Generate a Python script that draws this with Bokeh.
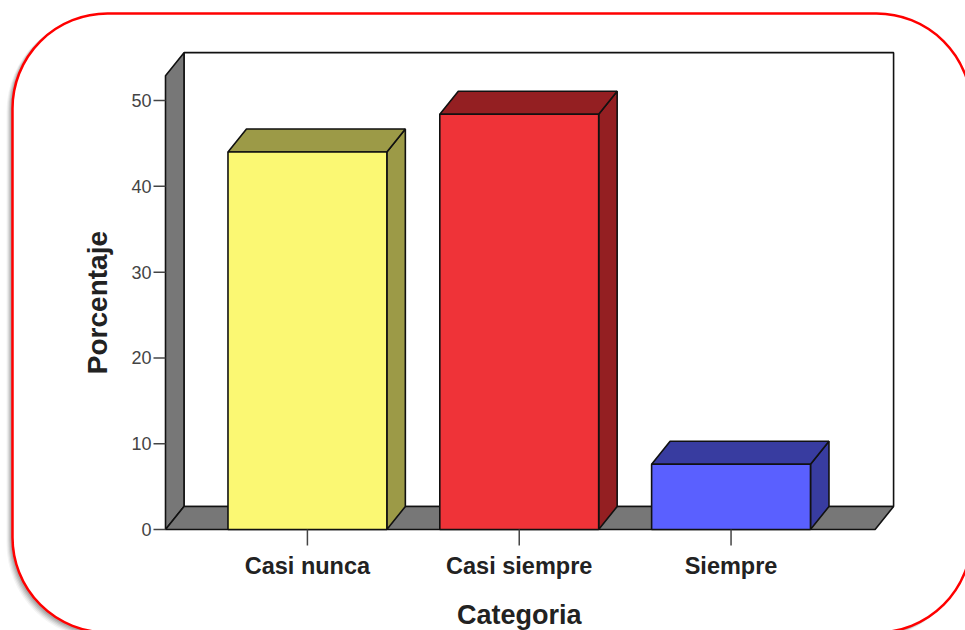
import math

from bokeh.plotting import figure
from bokeh.models import BoxAnnotation, Range1d
from bokeh.core.properties import value
from bokeh.embed import file_html
from bokeh.resources import INLINE

# ---- data -------------------------------------------------------------
categories = ["Casi nunca", "Casi siempre", "Siempre"]
percentages = [44.0, 48.4, 7.6]
y_ticks = [0, 10, 20, 30, 40, 50]
x_title = "Categoria"
y_title = "Porcentaje"

# front face colours and the darker shade used for top / side faces
front_colors = ["#FBF873", "#EF3338", "#5A60FF"]
shade_colors = ["#9C9A47", "#941F22", "#383CA0"]

# ---- canvas geometry ----------------------------------------------------
# The plotting area spans the whole canvas so that the rounded frame and
# the titles can be drawn around the 3-D chart.  The chart itself sits in
# the box below (pixels) and is mapped to data units through the ranges.
W, H = 965, 630
CH_L, CH_R, CH_T, CH_B = 165, 900, 40, 529
CX0, CX1 = -0.67, 2.80          # data x at CH_L / CH_R
CY0, CY1 = 0.0, 57.0            # data y at CH_B / CH_T

UX = (CX1 - CX0) / (CH_R - CH_L)   # data units per pixel (x)
UY = (CY1 - CY0) / (CH_B - CH_T)   # data units per pixel (y)


def px_x(px):
    return CX0 + (px - CH_L) * UX


def px_y(py):
    return CY0 + (CH_B - py) * UY


# 3-D depth offset of the back plane
DX = 18.5 * UX
DY = 23.0 * UY

# front edges of the floor / left wall
XL, XR = -0.67, 2.68
YT = 52.9
BAR_W = 0.75

OUTLINE = "#111111"
WALL = "#777777"
FONT = value("Liberation Sans")

p = figure(width=W, height=H, output_backend="svg", toolbar_location=None,
           x_range=Range1d(px_x(0), px_x(W)), y_range=Range1d(px_y(H), px_y(0)),
           x_axis_location=None, y_axis_location=None, min_border=0)
p.outline_line_color = None
p.background_fill_color = "white"
p.border_fill_color = "white"
p.xgrid.visible = False
p.ygrid.visible = False

# ---- rounded frame with a soft shadow --------------------------------------
for i, a in enumerate([0.05, 0.08, 0.11, 0.14, 0.17]):
    off = 6 - i
    p.add_layout(BoxAnnotation(left=px_x(12 - off), right=px_x(971 - off),
                               top=px_y(13 + off * 0.5), bottom=px_y(632 + off),
                               border_radius=95, fill_color="#404040",
                               fill_alpha=a, line_color=None, level="underlay"))
p.add_layout(BoxAnnotation(left=px_x(12), right=px_x(971),
                           top=px_y(13), bottom=px_y(632),
                           border_radius=95, fill_color="white", fill_alpha=1.0,
                           line_color="#FF0000", line_alpha=1.0, line_width=2.5,
                           level="underlay"))

# ---- back wall, left wall and floor ----------------------------------------
p.patch([XL + DX, XR + DX, XR + DX, XL + DX], [DY, DY, YT + DY, YT + DY],
        fill_color="white", line_color=OUTLINE, line_width=1.6)
p.patch([XL, XL, XL + DX, XL + DX], [0, YT, YT + DY, DY],
        fill_color=WALL, line_color=OUTLINE, line_width=1.6)
p.patch([XL, XR, XR + DX, XL + DX], [0, 0, DY, DY],
        fill_color=WALL, line_color=OUTLINE, line_width=1.6)

# ---- 3-D bars ---------------------------------------------------------------
centers = list(range(len(categories)))
lefts = [c - BAR_W / 2 for c in centers]
rights = [c + BAR_W / 2 for c in centers]

side_xs = [[r, r + DX, r + DX, r] for r in rights]
side_ys = [[0, DY, v + DY, v] for v in percentages]
top_xs = [[l, r, r + DX, l + DX] for l, r in zip(lefts, rights)]
top_ys = [[v, v, v + DY, v + DY] for v in percentages]

p.patches(side_xs, side_ys, fill_color=shade_colors, line_color=OUTLINE, line_width=1.6)
p.patches(top_xs, top_ys, fill_color=shade_colors, line_color=OUTLINE, line_width=1.6)
p.quad(left=lefts, right=rights, bottom=0, top=percentages,
       fill_color=front_colors, line_color=OUTLINE, line_width=1.6)

# ---- value axis (left) ----------------------------------------------------------
TICK_Y = 12 * UX
p.segment(x0=[XL - TICK_Y] * len(y_ticks), y0=y_ticks,
          x1=[XL] * len(y_ticks), y1=y_ticks,
          line_color="#444444", line_width=1.5)
p.text(x=[XL - TICK_Y - 2 * UX] * len(y_ticks), y=y_ticks,
       text=[str(t) for t in y_ticks],
       text_align="right", text_baseline="middle",
       text_font=FONT, text_font_size="18px", text_color="#444444")

# ---- category axis (bottom) -------------------------------------------------------
TICK_X = 16 * UY
p.segment(x0=centers, y0=[0] * len(centers), x1=centers, y1=[-TICK_X] * len(centers),
          line_color="#444444", line_width=1.5)
p.text(x=centers, y=[-TICK_X - 7 * UY] * len(centers), text=categories,
       text_align="center", text_baseline="top",
       text_font=FONT, text_font_style="bold", text_font_size="23.5px",
       text_color="#222222")

# ---- axis titles --------------------------------------------------------------------
p.text(x=[centers[len(centers) // 2]], y=[px_y(614)], text=[x_title],
       text_align="center", text_baseline="middle",
       text_font=FONT, text_font_style="bold", text_font_size="27px",
       text_color="#222222")
p.text(x=[px_x(97)], y=[YT / 2], text=[y_title], angle=math.pi / 2,
       text_align="center", text_baseline="middle",
       text_font=FONT, text_font_style="bold", text_font_size="28px",
       text_color="#222222")

with open("out.html", "w") as f:
    f.write(file_html(p, INLINE))
